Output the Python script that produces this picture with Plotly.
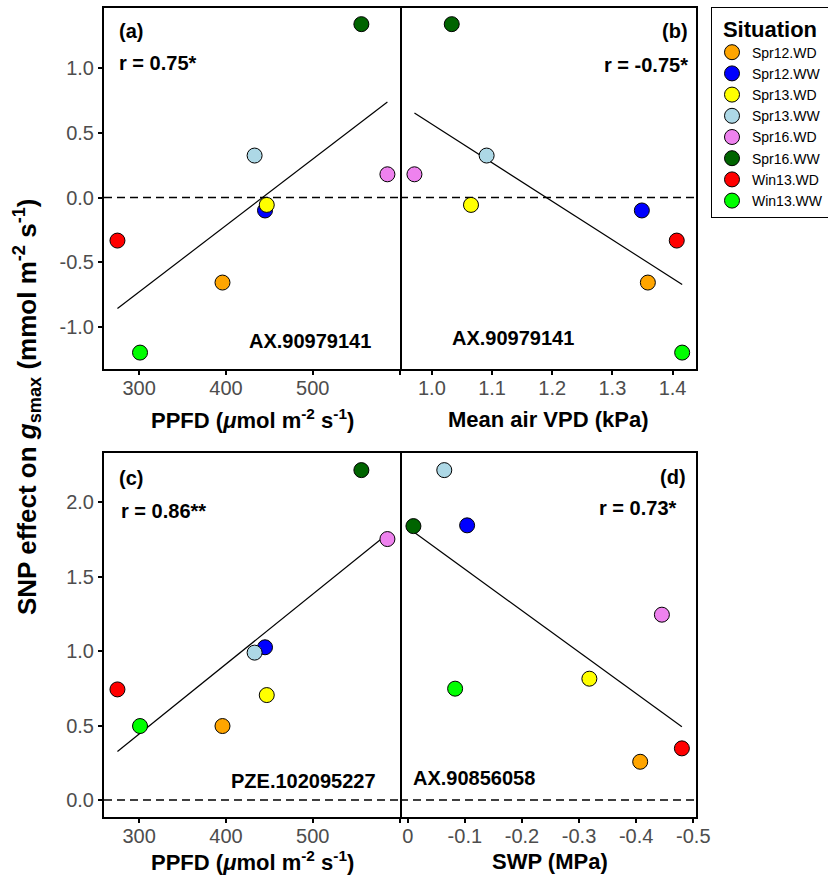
import numpy as np
import plotly.graph_objects as go

# ---------------- data ----------------
situations = ["Spr12.WD", "Spr12.WW", "Spr13.WD", "Spr13.WW",
              "Spr16.WD", "Spr16.WW", "Win13.WD", "Win13.WW"]
colors = ["#FFA500", "#0000FF", "#FFFF00", "#ADD8E6",
          "#EE82EE", "#006400", "#FF0000", "#00FF00"]

ppfd = [396, 445, 447, 433, 586, 556, 275, 301]            # µmol m-2 s-1
vpd = [1.359, 1.349, 1.065, 1.091, 0.971, 1.033, 1.407, 1.416]  # kPa
swp = [-0.407, -0.104, -0.318, -0.064, -0.445, -0.010, -0.480, -0.083]  # MPa

eff_ax90979141 = [-0.658, -0.100, -0.057, 0.325, 0.180, 1.342, -0.333, -1.200]
eff_pze102095227 = [0.497, 1.026, 0.705, 0.990, 1.753, 2.216, 0.743, 0.497]
eff_ax90856058 = [0.257, 1.845, 0.815, 2.216, 1.245, 1.840, 0.347, 0.748]

panel_letters = ["(a)", "(b)", "(c)", "(d)"]
panel_r = ["r = 0.75*", "r = -0.75*", "r = 0.86**", "r = 0.73*"]
panel_snp = ["AX.90979141", "AX.90979141", "PZE.102095227", "AX.90856058"]

ppfd_ticks = [300, 400, 500, 600]
ppfd_ticktext = ["300", "400", "500", ""]
vpd_ticks = [1.0, 1.1, 1.2, 1.3, 1.4]
vpd_ticktext = ["1.0", "1.1", "1.2", "1.3", "1.4"]
swp_ticks = [0, -0.1, -0.2, -0.3, -0.4, -0.5]
swp_ticktext = ["0", "-0.1", "-0.2", "-0.3", "-0.4", "-0.5"]
ytop_ticks = [-1.0, -0.5, 0.0, 0.5, 1.0]
ytop_ticktext = ["-1.0", "-0.5", "0.0", "0.5", "1.0"]
ybot_ticks = [0.0, 0.5, 1.0, 1.5, 2.0]
ybot_ticktext = ["0.0", "0.5", "1.0", "1.5", "2.0"]

# ---------------- layout helpers ----------------
W, H = 828, 875
FONT = "Liberation Sans, Arial, Helvetica, sans-serif"


def fx(px):
    return px / W


def fy(py):
    return 1 - py / H


panels = [
    dict(x=ppfd, y=eff_ax90979141, xa="x", ya="y"),
    dict(x=vpd, y=eff_ax90979141, xa="x2", ya="y2"),
    dict(x=ppfd, y=eff_pze102095227, xa="x3", ya="y3"),
    dict(x=swp, y=eff_ax90856058, xa="x4", ya="y4"),
]

fig = go.Figure()

for pi, p in enumerate(panels):
    xv = np.array(p["x"], dtype=float)
    yv = np.array(p["y"], dtype=float)
    slope, intercept = np.polyfit(xv, yv, 1)
    xl = np.array([xv.min(), xv.max()])
    fig.add_trace(go.Scatter(
        x=xl, y=slope * xl + intercept, mode="lines",
        line=dict(color="black", width=1.2),
        xaxis=p["xa"], yaxis=p["ya"], showlegend=False, hoverinfo="skip"))
    for i, s in enumerate(situations):
        fig.add_trace(go.Scatter(
            x=[p["x"][i]], y=[p["y"][i]], mode="markers", name=s,
            showlegend=(pi == 0),
            marker=dict(size=15, color=colors[i],
                        line=dict(color="black", width=1)),
            xaxis=p["xa"], yaxis=p["ya"]))

# domains (pixels -> paper)
left_x = [fx(104), fx(400)]
right_x = [fx(400), fx(696)]
top_y = [fy(369), fy(8)]
bot_y = [fy(817), fy(453)]

tickfont = dict(family=FONT, size=20, color="#4D4D4D")
common = dict(showline=True, mirror=True, linewidth=2, linecolor="black",
              showgrid=False, zeroline=False, ticks="outside", ticklen=4,
              tickwidth=1.5, tickcolor="black", tickfont=tickfont)
xcommon = dict(common, ticklabelstandoff=-4)
right_y = dict(showline=True, mirror=False, side="right", linewidth=2,
               linecolor="black", showgrid=False, zeroline=False,
               ticks="", showticklabels=False)

fig.update_layout(
    width=W, height=H,
    margin=dict(l=0, r=0, t=0, b=0, autoexpand=False),
    paper_bgcolor="white", plot_bgcolor="white",
    font=dict(family=FONT, color="black"),
    xaxis=dict(domain=left_x, anchor="y", range=[259.5, 600.5],
               tickvals=ppfd_ticks, ticktext=ppfd_ticktext, **xcommon),
    yaxis=dict(domain=top_y, anchor="x", range=[-1.327, 1.467],
               tickvals=ytop_ticks, ticktext=ytop_ticktext, **common),
    xaxis2=dict(domain=right_x, anchor="y2", range=[0.947, 1.439],
                tickvals=vpd_ticks, ticktext=vpd_ticktext, **xcommon),
    yaxis2=dict(domain=top_y, anchor="x2", range=[-1.327, 1.467], **right_y),
    xaxis3=dict(domain=left_x, anchor="y3", range=[259.5, 600.5],
                tickvals=ppfd_ticks, ticktext=ppfd_ticktext, **xcommon),
    yaxis3=dict(domain=bot_y, anchor="x3", range=[-0.114, 2.331],
                tickvals=ybot_ticks, ticktext=ybot_ticktext, **common),
    xaxis4=dict(domain=right_x, anchor="y4", range=[0.0135, -0.5047],
                tickvals=swp_ticks, ticktext=swp_ticktext, **xcommon),
    yaxis4=dict(domain=bot_y, anchor="x4", range=[-0.114, 2.331], **right_y),
    legend=dict(
        x=fx(711), y=fy(7), xanchor="left", yanchor="top",
        bordercolor="black", borderwidth=1, bgcolor="white",
        tracegroupgap=0,
        font=dict(family=FONT, size=14, color="black"),
        title=dict(text="<b>Situation</b>", side="top center",
                   font=dict(family=FONT, size=22, color="black")),
        itemclick=False, itemdoubleclick=False),
    showlegend=True,
)

# dashed zero lines
for xa, ya in [("x", "y"), ("x2", "y2"), ("x3", "y3"), ("x4", "y4")]:
    fig.add_shape(type="line", xref=f"{xa} domain", yref=ya,
                  x0=0, x1=1, y0=0, y1=0, layer="below",
                  line=dict(color="black", width=1.5, dash="8px,5px"))


def add_text(text, px, py, xanchor="left", size=20, angle=0):
    fig.add_annotation(text=text, x=fx(px), y=fy(py), xref="paper",
                       yref="paper", xanchor=xanchor, yanchor="middle",
                       showarrow=False, textangle=angle,
                       font=dict(family=FONT, size=size, color="black"))


# panel letters, r values, SNP names
add_text("<b>" + panel_letters[0] + "</b>", 117, 31)
add_text("<b>" + panel_r[0] + "</b>", 117, 63)
add_text("<b>" + panel_snp[0] + "</b>", 373, 341, xanchor="right")

add_text("<b>" + panel_letters[1] + "</b>", 690, 31, xanchor="right")
add_text("<b>" + panel_r[1] + "</b>", 690, 65, xanchor="right")
add_text("<b>" + panel_snp[1] + "</b>", 450, 338)

add_text("<b>" + panel_letters[2] + "</b>", 117, 478)
add_text("<b>" + panel_r[2] + "</b>", 119, 511)
add_text("<b>" + panel_snp[2] + "</b>", 378, 781, xanchor="right")

add_text("<b>" + panel_letters[3] + "</b>", 688, 477, xanchor="right")
add_text("<b>" + panel_r[3] + "</b>", 679, 508, xanchor="right")
add_text("<b>" + panel_snp[3] + "</b>", 411, 778)

# axis titles
ppfd_title = "<b>PPFD (<i>μ</i>mol m<sup>-2</sup> s<sup>-1</sup>)</b>"
add_text(ppfd_title, 252, 419, xanchor="center", size=22)
add_text("<b>Mean air VPD (kPa)</b>", 548, 419, xanchor="center", size=22)
add_text(ppfd_title, 252, 861, xanchor="center", size=22)
add_text("<b>SWP (MPa)</b>", 550, 861, xanchor="center", size=22)
add_text("<b>SNP effect on <i>g</i><sub>smax</sub> (mmol m<sup>-2</sup> s<sup>-1</sup>)</b>",
         27, 407, xanchor="center", size=26, angle=-90)

fig.write_html("out.html",
               config={"displayModeBar": False},
               post_script="document.body.style.margin='0';"
                           "document.body.style.overflow='hidden';")
